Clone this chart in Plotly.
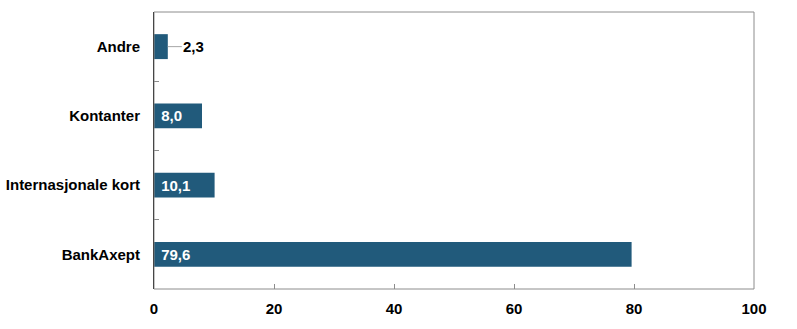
import plotly.graph_objects as go

categories = ["BankAxept", "Internasjonale kort", "Kontanter", "Andre"]
values = [79.6, 10.1, 8.0, 2.3]
labels = ["79,6", "10,1", "8,0", "2,3"]
x_ticks = [0, 20, 40, 60, 80, 100]

BAR = "#215a7b"
FONT = "Arial, Liberation Sans, sans-serif"
FS = 15

inside = [v >= 5 for v in values]
fig = go.Figure()
fig.add_trace(go.Bar(
    y=categories, x=values, orientation="h",
    marker=dict(color=BAR, line=dict(width=0)),
    width=0.36,
    text=[" " + t if ins else "" for t, ins in zip(labels, inside)],
    textposition=["inside" if ins else "none" for ins in inside],
    insidetextanchor="start",
    textfont=dict(family=FONT, size=FS, color="white", weight="bold"),
    constraintext="none",
    hoverinfo="skip",
))

for c, v, t, ins in zip(categories, values, labels, inside):
    if not ins:
        fig.add_annotation(
            x=v, y=c, xref="x", yref="y", text="<b>" + t + "</b>",
            showarrow=True, arrowhead=0, arrowwidth=1, arrowcolor="#a6a6a6",
            ax=26, ay=0, standoff=0, startstandoff=0,
            font=dict(family=FONT, size=FS, color="black"),
        )

fig.add_shape(type="rect", xref="paper", yref="paper", x0=0, x1=1, y0=0, y1=1,
              line=dict(color="#8c8c8c", width=1), layer="above")

fig.update_layout(
    width=797, height=329,
    margin=dict(l=154, r=43, t=12, b=40, autoexpand=False),
    plot_bgcolor="white", paper_bgcolor="white",
    showlegend=False,
    font=dict(family=FONT, size=FS, color="black"),
    xaxis=dict(range=[0, 100], tickvals=x_ticks, ticktext=[str(v) for v in x_ticks],
               ticks="inside", ticklen=5, tickcolor="#8c8c8c", showgrid=False,
               zeroline=False, showline=False, ticklabelstandoff=9, automargin=False,
               tickfont=dict(family=FONT, size=FS, color="black", weight="bold")),
    yaxis=dict(categoryorder="array", categoryarray=categories,
               tickson="boundaries", ticks="inside", ticklen=5, tickcolor="#8c8c8c",
               showgrid=False, zeroline=False, showline=True, linecolor="black", linewidth=1,
               ticklabelstandoff=10, automargin=False,
               tickfont=dict(family=FONT, size=FS, color="black", weight="bold")),
)

fig.write_html("out.html")
